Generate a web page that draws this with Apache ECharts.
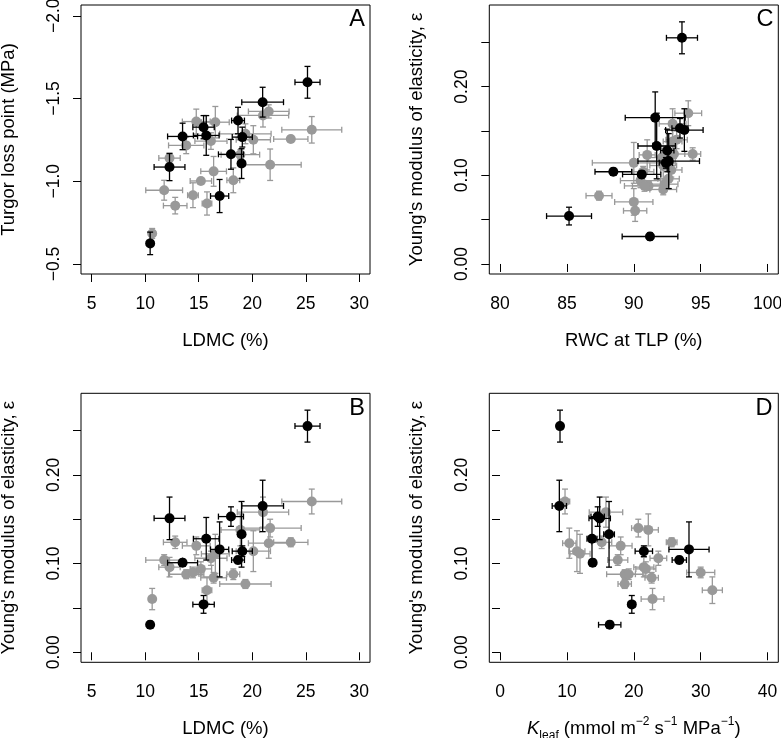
<!DOCTYPE html>
<html>
<head>
<meta charset="utf-8">
<script src="https://cdn.jsdelivr.net/npm/echarts@6/dist/echarts.min.js"></script>
<style>
html,body{margin:0;padding:0;background:#fff;}
#chart{width:781px;height:738px;}
</style>
</head>
<body>
<div id="chart"></div>
<script>
// ---- tick values ----
const ldmcTicks  = [5, 10, 15, 20, 25, 30];
const tlpTicks   = [-2.0, -1.5, -1.0, -0.5];
const epsTicks   = [0, 0.05, 0.10, 0.15, 0.20, 0.25];
const epsLabels  = [0, 0.10, 0.20];
const rwcTicks   = [80, 85, 90, 95, 100];
const kleafTicks = [0, 10, 20, 30, 40];

// ---- grey species (21) ----
const greyLDMC     = [10.65,11.77,12.27,12.80,13.83,14.77,14.46,15.20,15.77,16.14,16.55,16.39,18.23,18.89,19.36,20.10,21.00,21.54,21.67,23.60,25.56];
const greyLDMCErr  = [0.25,1.72,1.00,1.10,1.65,1.30,0.50,1.00,0.45,1.50,1.30,1.20,0.60,1.80,2.40,1.60,2.40,1.90,2.90,1.60,2.80];
const greyTLP      = [-0.685,-0.946,-1.140,-0.853,-1.217,-1.361,-0.916,-1.002,-0.866,-1.243,-1.357,-1.060,-1.006,-1.161,-1.287,-1.251,-1.398,-1.422,-1.100,-1.255,-1.311];
const greyTLPErr   = [0.03,0.06,0.03,0.05,0.05,0.075,0.075,0.015,0.07,0.05,0.095,0.09,0.075,0.03,0.06,0.085,0.07,0.04,0.095,0.02,0.08];
const greyEps      = [0.060,0.104,0.096,0.124,0.088,0.120,0.090,0.094,0.070,0.106,0.111,0.084,0.088,0.138,0.077,0.114,0.158,0.123,0.140,0.124,0.170];
const greyEpsErr   = [0.012,0.006,0.011,0.007,0.005,0.010,0.006,0.008,0.015,0.008,0.022,0.006,0.006,0.018,0.005,0.023,0.017,0.017,0.010,0.005,0.014];
const greyRWC      = [90.1,90.7,92.6,94.4,91.1,92.1,92.3,90.5,90.0,92.8,92.2,92.2,90.8,92.9,87.4,90.0,92.9,91.0,93.2,93.0,94.07];
const greyRWCErr   = [0.87,0.8,0.8,0.6,1.2,1.0,1.0,1.5,1.43,0.8,1.0,1.0,1.5,0.7,0.97,3.1,1.0,0.6,0.8,0.8,1.0];
const greyKleaf    = [22.8,17.6,21.5,15.2,18.64,18.04,30.0,21.8,31.74,23.67,11.96,22.67,19.24,22.17,18.64,11.5,15.84,10.36,20.67,25.66,9.72];
const greyKleafErr = [1.7,1.5,1.5,1.5,2.7,1.7,2.1,1.5,1.5,1.25,1.5,1.0,1.0,1.5,1.0,1.2,2.5,1.0,1.0,0.8,0.7];

// ---- black species (12) ----
const blackLDMC     = [10.46,12.27,13.49,15.45,15.70,16.95,18.01,18.67,19.00,19.07,20.97,25.16];
const blackLDMCErr  = [0.22,1.44,1.40,1.00,1.20,0.85,1.17,0.60,0.30,0.94,1.95,1.17];
const blackTLP      = [-0.625,-1.086,-1.271,-1.327,-1.277,-0.911,-1.163,-1.367,-1.107,-1.267,-1.478,-1.598];
const blackTLPErr   = [0.068,0.082,0.080,0.070,0.120,0.100,0.090,0.080,0.090,0.060,0.090,0.096];
const blackEps      = [0.031,0.151,0.101,0.054,0.128,0.116,0.153,0.104,0.133,0.114,0.165,0.255];
const blackEpsErr   = [0.004,0.024,0.004,0.010,0.024,0.031,0.011,0.004,0.037,0.006,0.029,0.018];
const blackRWC      = [91.21,93.78,90.59,85.16,92.50,92.61,93.45,88.47,91.71,92.40,91.60,93.60];
const blackRWCErr   = [2.08,1.40,1.43,1.68,0.50,2.30,0.60,1.37,1.40,0.50,2.24,1.16];
const blackKleaf    = [16.4,14.9,13.85,19.7,13.75,28.25,14.6,26.8,16.3,21.5,8.87,8.97];
const blackKleafErr = [1.67,1.6,0.3,0.5,0.75,3.0,1.0,1.07,0.8,1.3,1.07,0.2];

const FONT = '"Liberation Sans", Arial, Helvetica, sans-serif';
const GREY = '#999999';
const BLACK = '#000000';

function errData(xs, xe, ys, ye) {
  return xs.map((x, i) => [x, ys[i], x - xe[i], x + xe[i], ys[i] - ye[i], ys[i] + ye[i]]);
}
function ptData(xs, ys) { return xs.map((x, i) => [x, ys[i]]); }

function errRender(color) {
  return function (params, api) {
    const x = api.value(0), y = api.value(1);
    const l = api.coord([api.value(2), y]);
    const r = api.coord([api.value(3), y]);
    const b = api.coord([x, api.value(4)]);
    const t = api.coord([x, api.value(5)]);
    const cap = 3;
    const style = { stroke: color, lineWidth: 1.3, fill: null };
    const ln = (x1, y1, x2, y2) => ({ type: 'line', shape: { x1, y1, x2, y2 }, style });
    return {
      type: 'group',
      children: [
        ln(l[0], l[1], r[0], r[1]),
        ln(l[0], l[1] - cap, l[0], l[1] + cap),
        ln(r[0], r[1] - cap, r[0], r[1] + cap),
        ln(b[0], b[1], t[0], t[1]),
        ln(b[0] - cap, b[1], b[0] + cap, b[1]),
        ln(t[0] - cap, t[1], t[0] + cap, t[1])
      ]
    };
  };
}

const grids = [
  { left: 81, top: 5, width: 289, height: 269 },      // A
  { left: 489.3, top: 5, width: 289, height: 269 },   // C
  { left: 81, top: 393.3, width: 289, height: 269 },  // B
  { left: 489.3, top: 393.3, width: 289, height: 269 } // D
].map(g => Object.assign(g, {
  show: true, borderColor: '#000', borderWidth: 1, backgroundColor: 'transparent',
  containLabel: false, outerBoundsMode: 'none'
}));

const tickStyle = { show: true, length: 8, lineStyle: { color: '#000', width: 1 } };
const labelBase = { color: '#000', fontSize: 17.5, fontFamily: FONT };
const nameStyle = { color: '#000', fontSize: 18.5, fontFamily: FONT };

function xAxis(gi, min, max, ticks, name, extra) {
  return Object.assign({
    type: 'value', gridIndex: gi, min, max,
    splitLine: { show: false }, axisLine: { show: false },
    axisTick: Object.assign({ customValues: ticks }, tickStyle),
    axisLabel: Object.assign({ customValues: ticks, margin: 21 }, labelBase),
    name, nameLocation: 'middle', nameGap: 57, nameTextStyle: nameStyle
  }, extra || {});
}
function yAxis(gi, min, max, ticks, labels, fmt, name, extra) {
  return Object.assign({
    type: 'value', gridIndex: gi, min, max,
    splitLine: { show: false }, axisLine: { show: false },
    axisTick: Object.assign({ customValues: ticks }, tickStyle),
    axisLabel: Object.assign({ customValues: labels, margin: 18, rotate: 90, formatter: fmt }, labelBase),
    name, nameLocation: 'middle', nameGap: 63, nameTextStyle: nameStyle
  }, extra || {});
}
const tlpFmt = v => (v < 0 ? '\u2212' : '') + Math.abs(v).toFixed(1);
const epsFmt = v => v.toFixed(2);
const epsName = "Young's modulus of elasticity, \u03B5";

const xAxes = [
  xAxis(0, 4, 31, ldmcTicks, 'LDMC (%)'),
  xAxis(1, 79.2, 100.8, rwcTicks, 'RWC at TLP (%)'),
  xAxis(2, 4, 31, ldmcTicks, 'LDMC (%)'),
  xAxis(3, -1.6, 41.6, kleafTicks,
    '{k|K}{sub|leaf} (mmol m{sup|\u22122} s{sup|\u22121} MPa{sup|\u22121})',
    { nameGap: 52, nameTextStyle: Object.assign({}, nameStyle, {
        lineHeight: 30,
        rich: {
          k: { fontStyle: 'italic', fontSize: 18.5, lineHeight: 30, fontFamily: FONT, color: '#000' },
          sub: { fontSize: 12, lineHeight: 12, padding: [12, 0, 0, 0], fontFamily: FONT, color: '#000' },
          sup: { fontSize: 12, lineHeight: 12, padding: [0, 0, 16, 0], fontFamily: FONT, color: '#000' }
        }
      }) })
];
const yAxes = [
  yAxis(0, -2.065, -0.44, tlpTicks, tlpTicks, tlpFmt, 'Turgor loss point (MPa)', { inverse: true }),
  yAxis(1, -0.0113, 0.292, epsTicks, epsLabels, epsFmt, epsName),
  yAxis(2, -0.0113, 0.292, epsTicks, epsLabels, epsFmt, epsName),
  yAxis(3, -0.0113, 0.292, epsTicks, epsLabels, epsFmt, epsName)
];

const panels = [
  { g: 0, gx: greyLDMC, gxe: greyLDMCErr, gy: greyTLP, gye: greyTLPErr, bx: blackLDMC, bxe: blackLDMCErr, by: blackTLP, bye: blackTLPErr },
  { g: 1, gx: greyRWC, gxe: greyRWCErr, gy: greyEps, gye: greyEpsErr, bx: blackRWC, bxe: blackRWCErr, by: blackEps, bye: blackEpsErr },
  { g: 2, gx: greyLDMC, gxe: greyLDMCErr, gy: greyEps, gye: greyEpsErr, bx: blackLDMC, bxe: blackLDMCErr, by: blackEps, bye: blackEpsErr },
  { g: 3, gx: greyKleaf, gxe: greyKleafErr, gy: greyEps, gye: greyEpsErr, bx: blackKleaf, bxe: blackKleafErr, by: blackEps, bye: blackEpsErr }
];

const series = [];
panels.forEach(p => {
  series.push({
    type: 'custom', xAxisIndex: p.g, yAxisIndex: p.g, renderItem: errRender(GREY),
    data: errData(p.gx, p.gxe, p.gy, p.gye), encode: { x: [0, 2, 3], y: [1, 4, 5] }, silent: true, z: 2
  });
  series.push({
    type: 'scatter', xAxisIndex: p.g, yAxisIndex: p.g, data: ptData(p.gx, p.gy),
    symbol: 'circle', symbolSize: 10, itemStyle: { color: GREY, opacity: 1 }, silent: true, z: 3
  });
  series.push({
    type: 'custom', xAxisIndex: p.g, yAxisIndex: p.g, renderItem: errRender(BLACK),
    data: errData(p.bx, p.bxe, p.by, p.bye), encode: { x: [0, 2, 3], y: [1, 4, 5] }, silent: true, z: 4
  });
  series.push({
    type: 'scatter', xAxisIndex: p.g, yAxisIndex: p.g, data: ptData(p.bx, p.by),
    symbol: 'circle', symbolSize: 10, itemStyle: { color: BLACK, opacity: 1 }, silent: true, z: 5
  });
});

const letterStyle = { fill: '#000', fontSize: 23.5, fontFamily: FONT, textAlign: 'center', textVerticalAlign: 'middle' };
const letters = [
  { t: 'A', x: 357, y: 20 },
  { t: 'C', x: 765, y: 20 },
  { t: 'B', x: 357, y: 408.5 },
  { t: 'D', x: 764, y: 408.5 }
].map(o => ({ type: 'text', x: o.x, y: o.y, z: 10, style: Object.assign({ text: o.t }, letterStyle) }));

const chart = echarts.init(document.getElementById('chart'), null, { renderer: 'canvas' });
chart.setOption({
  animation: false,
  backgroundColor: '#fff',
  textStyle: { fontFamily: FONT },
  grid: grids,
  xAxis: xAxes,
  yAxis: yAxes,
  series,
  graphic: letters
});
</script>
</body>
</html>
